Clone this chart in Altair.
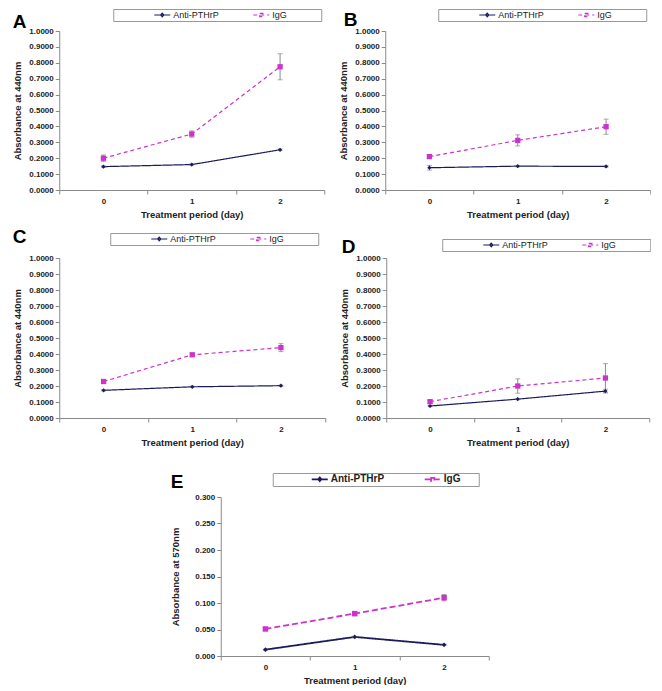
import altair as alt
import pandas as pd

# ---------------- data ----------------
days = ["0", "1", "2"]
series = ["Anti-PTHrP", "IgG"]

a_anti = [0.147, 0.160, 0.253]
a_anti_err = [0.004, 0.004, 0.005]
a_igg = [0.200, 0.352, 0.775]
a_igg_err = [0.020, 0.020, 0.082]

b_anti = [0.140, 0.150, 0.148]
b_anti_err = [0.015, 0.004, 0.004]
b_igg = [0.210, 0.312, 0.398]
b_igg_err = [0.010, 0.035, 0.048]

c_anti = [0.173, 0.195, 0.202]
c_anti_err = [0.004, 0.004, 0.004]
c_igg = [0.228, 0.395, 0.440]
c_igg_err = [0.010, 0.010, 0.025]

d_anti = [0.075, 0.118, 0.168]
d_anti_err = [0.004, 0.004, 0.012]
d_igg = [0.102, 0.200, 0.250]
d_igg_err = [0.010, 0.045, 0.090]

e_anti = [0.012, 0.036, 0.021]
e_anti_err = [0.001, 0.001, 0.001]
e_igg = [0.051, 0.080, 0.110]
e_igg_err = [0.002, 0.004, 0.006]

y_ticks_440 = [0.0, 0.1, 0.2, 0.3, 0.4, 0.5, 0.6, 0.7, 0.8, 0.9, 1.0]
y_ticks_570 = [0.0, 0.05, 0.10, 0.15, 0.20, 0.25, 0.30]

NAVY = "#1b1b5c"
MAGENTA = "#cc33cc"
GRAY = "#8a8a8a"
FONT = "Liberation Sans"
NBSP = "\u00a0"
ZWSP = "\u200b"

DIAMOND = "M-2,0H2M-0.4,0L0,-0.45L0.4,0L0,0.45Z"
SQUARE = "M-2,0H2M-0.4,-0.4H0.4V0.4H-0.4Z"


def panel(letter, anti, anti_err, igg, igg_err, ytitle, yticks, yfmt,
          w, h, lx, ly, toff, tdx, big=False):
    rows = []
    for s, vals, errs in [("Anti-PTHrP", anti, anti_err), ("IgG", igg, igg_err)]:
        for d, v, e in zip(days, vals, errs):
            rows.append({"day": d, "series": s, "value": v,
                         "lo": v - e, "hi": v + e})
    df = pd.DataFrame(rows)

    x = alt.X("day:O", title="Treatment period (day)",
              scale=alt.Scale(type="band", paddingInner=0, paddingOuter=0),
              axis=alt.Axis(labelAngle=0, tickBand="extent", labelPadding=3,
                            titlePadding=4, labelFontSize=8,
                            titleFontSize=9.5))
    yscale = alt.Scale(domain=[yticks[0], yticks[-1]], nice=False, zero=True)
    yaxis = alt.Axis(values=yticks, format=yfmt, labelFontSize=8,
                     titleFontSize=9.5, titlePadding=6 if not big else 14,
                     labelPadding=2)

    sw = 1.2 if not big else 1.8
    pad_n = 13 if not big else 6
    legend = alt.Legend(
        title=" ", titleOrient="left", titlePadding=43 if not big else 41,
        titleFontSize=9,
        orient="none", legendX=lx, legendY=ly, direction="horizontal",
        columns=2, columnPadding=31 if not big else 36,
        strokeColor="#999999", padding=1, fillColor="white",
        labelFontSize=9 if not big else 10,
        labelFontWeight="bold" if big else "normal",
        labelFont=FONT, labelColor="#222222",
        labelExpr="datum.label == 'IgG' ? 'IgG" + NBSP * pad_n + ZWSP + "' : datum.label",
        symbolSize=64, symbolStrokeWidth=sw, symbolOpacity=1,
        labelOffset=6,
    )
    cscale = alt.Scale(domain=series, range=[NAVY, MAGENTA])
    color = alt.Color("series:N", scale=cscale, legend=legend)
    dash = alt.StrokeDash("series:N",
                          scale=alt.Scale(domain=series,
                                          range=[[1, 0], [4, 3] if not big else [6, 3]]),
                          legend=legend)

    base = alt.Chart(df)
    yv = alt.Y("value:Q", title=ytitle, scale=yscale, axis=yaxis)
    line = base.mark_line(strokeWidth=sw).encode(
        x=x, y=yv, color=color, strokeDash=dash, detail="series:N")
    # invisible layer that only supplies legend symbol shapes
    leg = base.mark_point(filled=False, opacity=0, strokeWidth=sw).encode(
        x=x, y=yv, color=color,
        shape=alt.Shape("series:N", scale=alt.Scale(domain=series, range=[DIAMOND, SQUARE]),
                        legend=legend))
    err = base.mark_rule(color=GRAY, strokeWidth=1).encode(
        x=x, y=alt.Y("lo:Q", title=ytitle, scale=yscale, axis=yaxis), y2="hi:Q")
    cap_lo = base.mark_tick(color=GRAY, size=5, thickness=1, orient="horizontal").encode(
        x=x, y=alt.Y("lo:Q", title=ytitle, scale=yscale, axis=yaxis))
    cap_hi = base.mark_tick(color=GRAY, size=5, thickness=1, orient="horizontal").encode(
        x=x, y=alt.Y("hi:Q", title=ytitle, scale=yscale, axis=yaxis))
    pts_a = base.transform_filter(alt.datum.series == "Anti-PTHrP").mark_point(
        filled=True, opacity=1, shape="diamond", color=NAVY, size=18 if not big else 22
    ).encode(x=x, y=yv)
    pts_i = base.transform_filter(alt.datum.series == "IgG").mark_point(
        filled=True, opacity=1, shape="square", color=MAGENTA, size=28 if not big else 30
    ).encode(x=x, y=yv)
    return alt.layer(line, leg, err, cap_lo, cap_hi, pts_a, pts_i).properties(
        width=w, height=h,
        title=alt.TitleParams(letter, anchor="start", frame="bounds", fontSize=19,
                              font=FONT, fontWeight="bold", offset=toff, dx=tdx),
    )


def indep(c):
    return c.resolve_scale(color="independent", strokeDash="independent",
                           shape="independent").resolve_legend(
        color="independent", strokeDash="independent", shape="independent")


pA = panel("A", a_anti, a_anti_err, a_igg, a_igg_err, "Absorbance at 440nm",
           y_ticks_440, ".4f", 265, 159, 54, -22, -23, 0)
pB = panel("B", b_anti, b_anti_err, b_igg, b_igg_err, "Absorbance at 440nm",
           y_ticks_440, ".4f", 265, 159, 53, -22, -21, 5)
pC = panel("C", c_anti, c_anti_err, c_igg, c_igg_err, "Absorbance at 440nm",
           y_ticks_440, ".4f", 266, 160, 51, -25, -14, 0)
pD = panel("D", d_anti, d_anti_err, d_igg, d_igg_err, "Absorbance at 440nm",
           y_ticks_440, ".4f", 263, 160, 56, -19, -18, 2)
pE = panel("E", e_anti, e_anti_err, e_igg, e_igg_err, "Absorbance at 570nm",
           y_ticks_570, ".3f", 268, 159, 52, -24, -19, 0, big=True)

row1 = indep(alt.hconcat(pA, pB, spacing=13))
row2 = indep(alt.hconcat(pC, pD, spacing=13))
top = indep(alt.vconcat(row1, row2, spacing=8))
chart = indep(alt.vconcat(top, pE, spacing=25, center=True))

chart = chart.properties(padding={"left": 4, "top": 0, "right": 0, "bottom": 0}).configure_view(
    stroke=None).configure_axis(
    labelFont=FONT, titleFont=FONT, labelFontWeight="bold", titleFontWeight="bold",
    labelColor="#222222", titleColor="#222222", domainColor=GRAY, tickColor=GRAY,
    tickSize=4, grid=False,
)

chart.save("out.html", embed_options={"renderer": "svg", "actions": False})
